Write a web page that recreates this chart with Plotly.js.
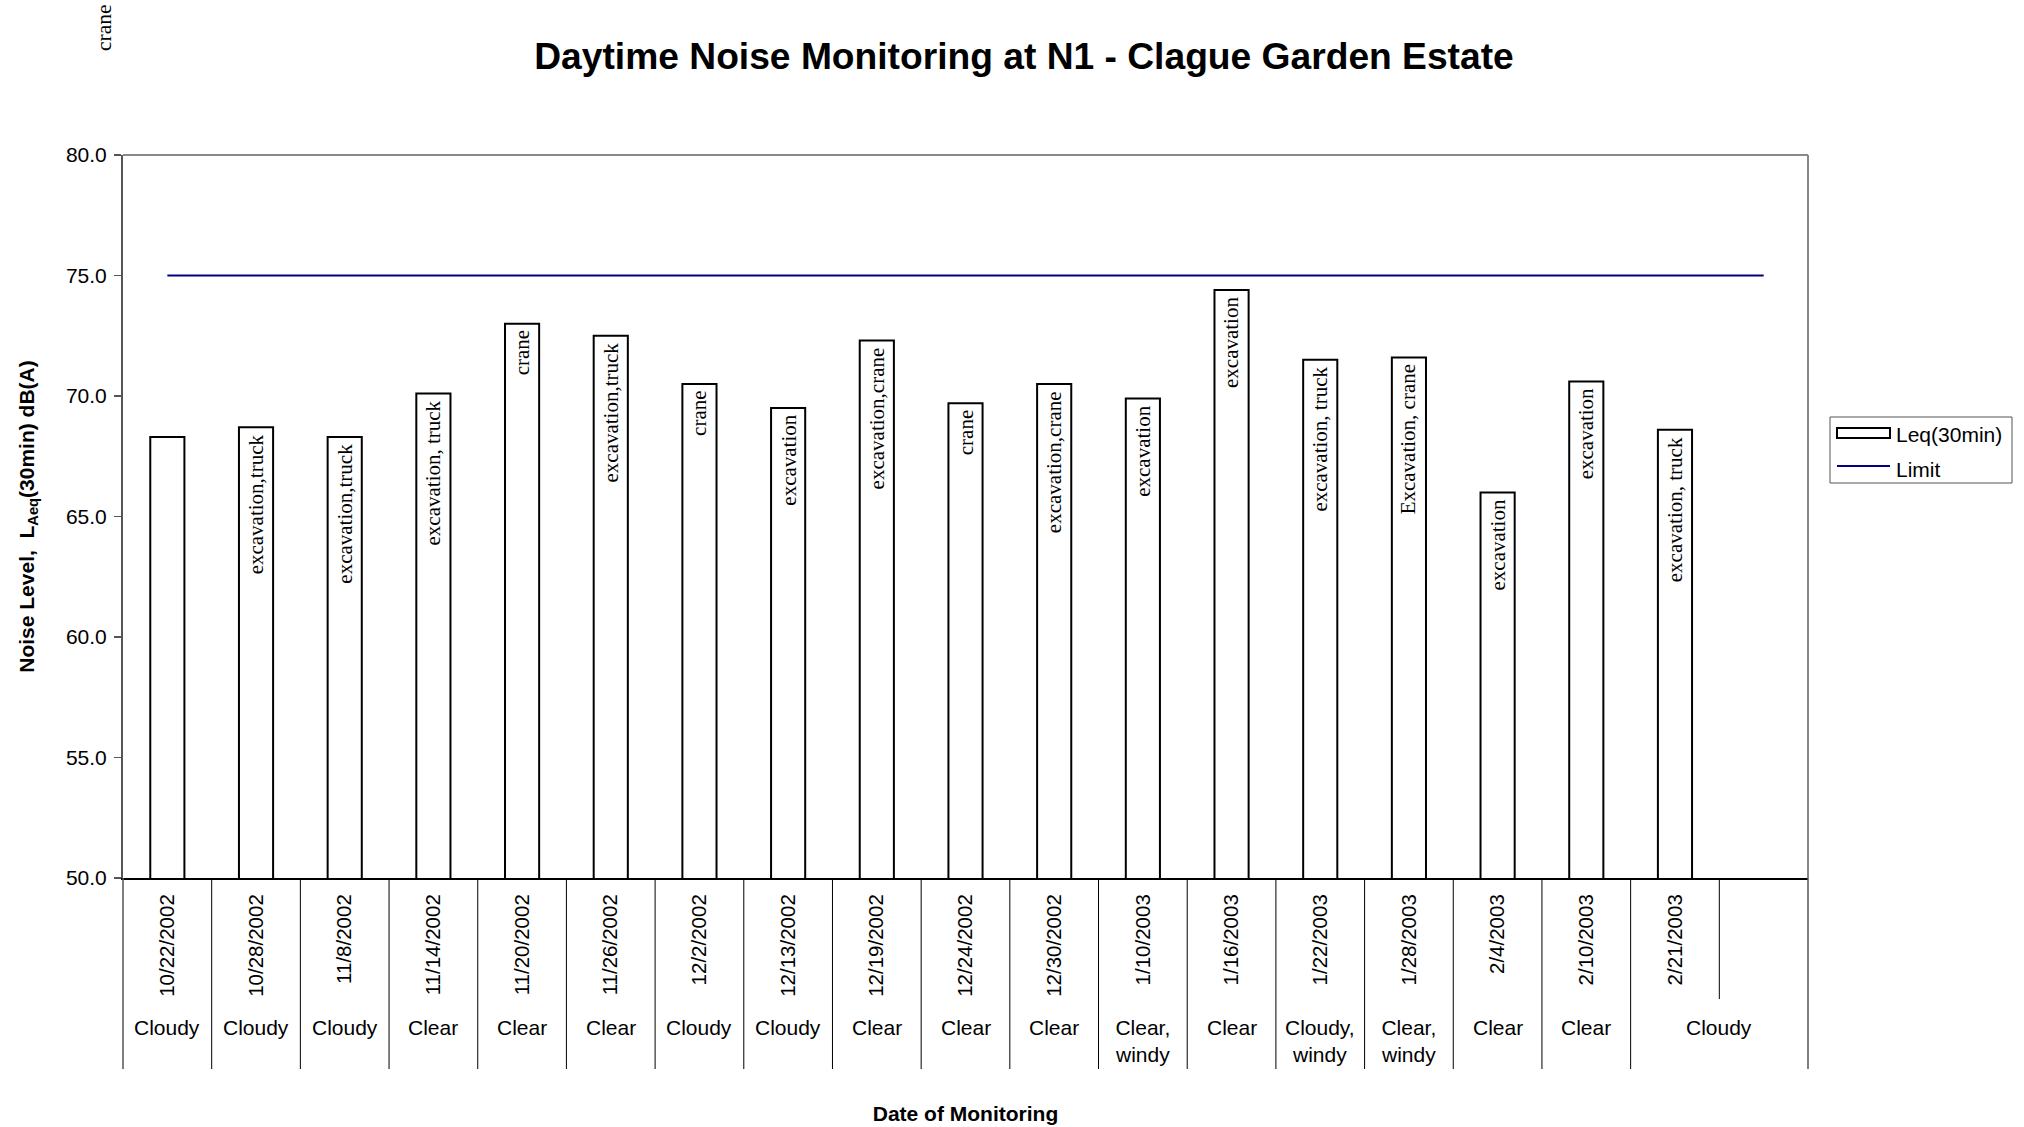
<!DOCTYPE html>
<html>
<head>
<meta charset="utf-8">
<script src="https://cdn.plot.ly/plotly-3.0.1.min.js"></script>
<style>
  html, body { margin: 0; padding: 0; background: #ffffff; }
  #chart { width: 2024px; height: 1127px; }
</style>
</head>
<body>
<div id="chart"></div>
<script>
// ---------------- data ----------------
const dates = ['10/22/2002','10/28/2002','11/8/2002','11/14/2002','11/20/2002','11/26/2002',
  '12/2/2002','12/13/2002','12/19/2002','12/24/2002','12/30/2002','1/10/2003','1/16/2003',
  '1/22/2003','1/28/2003','2/4/2003','2/10/2003','2/21/2003',''];
const weather = ['Cloudy','Cloudy','Cloudy','Clear','Clear','Clear','Cloudy','Cloudy','Clear',
  'Clear','Clear','Clear,<br>windy','Clear','Cloudy,<br>windy','Clear,<br>windy','Clear','Clear','Cloudy'];
const leq = [68.3, 68.7, 68.3, 70.1, 73.0, 72.5, 70.5, 69.5, 72.3, 69.7, 70.5, 69.9, 74.4,
  71.5, 71.6, 66.0, 70.6, 68.6];
const sources = ['', 'excavation,truck', 'excavation,truck', 'excavation, truck', 'crane',
  'excavation,truck', 'crane', 'excavation', 'excavation,crane', 'crane', 'excavation,crane',
  'excavation', 'excavation', 'excavation, truck', 'Excavation, crane', 'excavation',
  'excavation', 'excavation, truck'];
const limit = [75, 75, 75, 75, 75, 75, 75, 75, 75, 75, 75, 75, 75, 75, 75, 75, 75, 75, 75];
const yTicks = [50, 55, 60, 65, 70, 75, 80];
const seriesNames = ['Leq(30min)', 'Limit'];
const strayNote = 'crane';

// ---------------- layout geometry ----------------
const W = 2024, H = 1127;
const M = {l: 123, r: 216, t: 155, b: 249};
const PW = W - M.l - M.r, PH = H - M.t - M.b;
const px = v => (v - M.l) / PW;          // pixel x -> paper
const py = v => (M.t + PH - v) / PH;     // pixel y -> paper
const SANS = 'Arial, "Liberation Sans", sans-serif';
const SERIF = '"Times New Roman", "Liberation Serif", serif';

const idx = dates.map((d, i) => i);
const labelledIdx = idx.filter(i => dates[i] !== '');
const barX = leq.map((v, i) => i);
const xr = [-0.5, dates.length - 0.5];
const xfrac = v => (v - xr[0]) / (xr[1] - xr[0]);

const traces = [
  {
    type: 'bar', name: seriesNames[0], x: barX, y: leq,
    marker: {color: '#ffffff', line: {color: '#000000', width: 2}},
    hoverinfo: 'skip', showlegend: false
  },
  {
    type: 'scatter', mode: 'lines', name: seriesNames[1], x: idx, y: limit,
    line: {color: '#000080', width: 2}, hoverinfo: 'skip', showlegend: false
  }
];

const annotations = [];
// labels inside the bars
sources.forEach((s, i) => {
  if (!s) return;
  annotations.push({
    x: barX[i], y: leq[i], xref: 'x', yref: 'y', text: s, textangle: -90,
    showarrow: false, xanchor: 'center', yanchor: 'top', yshift: -5,
    font: {family: SERIF, size: 21, color: '#000000'}
  });
});
// weather row
weather.forEach((w, i) => {
  const last = i === weather.length - 1;
  annotations.push({
    x: last ? i + 0.5 : i, y: 0, xref: 'x', yref: 'paper', text: w, showarrow: false,
    xanchor: 'center', yanchor: 'top', yshift: -136,
    font: {family: SANS, size: 21, color: '#000000'}
  });
});
// stray note top-left
annotations.push({
  x: px(104), y: py(28), xref: 'paper', yref: 'paper', text: strayNote, textangle: -90,
  showarrow: false, xanchor: 'center', yanchor: 'middle',
  font: {family: SERIF, size: 21.5, color: '#000000'}
});
// legend texts
annotations.push({
  x: px(1894), y: py(435), xref: 'paper', yref: 'paper', text: seriesNames[0],
  showarrow: false, xanchor: 'left', yanchor: 'middle',
  font: {family: SANS, size: 21, color: '#000000'}
});
annotations.push({
  x: px(1894), y: py(469.5), xref: 'paper', yref: 'paper', text: seriesNames[1],
  showarrow: false, xanchor: 'left', yanchor: 'middle',
  font: {family: SANS, size: 21, color: '#000000'}
});

const shapes = [];
// plot frame top / right
shapes.push({type: 'line', xref: 'paper', yref: 'paper', x0: 0, x1: 1, y0: 1, y1: 1,
  line: {color: '#888888', width: 2}, layer: 'below'});
shapes.push({type: 'line', xref: 'paper', yref: 'paper', x0: 1, x1: 1, y0: 0, y1: 1,
  line: {color: '#888888', width: 2}, layer: 'below'});
// category separators below the axis
for (let b = 0; b <= dates.length; b++) {
  const xv = b - 0.5;
  const shortLine = (b === dates.length - 1);
  const edge = (b === 0 || b === dates.length);
  shapes.push({
    type: 'line', xref: 'paper', yref: 'paper', x0: xfrac(xv), x1: xfrac(xv),
    y0: 0, y1: shortLine ? py(999) : py(1069),
    line: {color: edge ? '#555555' : '#000000', width: edge ? 1.5 : 1}
  });
}
// legend box and symbols
shapes.push({type: 'rect', xref: 'paper', yref: 'paper', x0: px(1830), x1: px(2012),
  y0: py(417), y1: py(483), line: {color: '#555555', width: 1}, fillcolor: '#ffffff'});
shapes.push({type: 'rect', xref: 'paper', yref: 'paper', x0: px(1837), x1: px(1890),
  y0: py(428), y1: py(438), line: {color: '#000000', width: 2}, fillcolor: '#ffffff'});
shapes.push({type: 'line', xref: 'paper', yref: 'paper', x0: px(1837), x1: px(1890),
  y0: py(466), y1: py(466), line: {color: '#000080', width: 2}});

const layout = {
  width: W, height: H,
  margin: M,
  paper_bgcolor: '#ffffff', plot_bgcolor: '#ffffff',
  font: {family: SANS, color: '#000000'},
  showlegend: false,
  bargap: 0.615,
  title: {
    text: '<b>Daytime Noise Monitoring at N1 - Clague Garden Estate</b>',
    font: {family: SANS, size: 37.2, color: '#000000'},
    xref: 'container', yref: 'container', x: 1024 / W, y: 1 - 56 / H,
    xanchor: 'center', yanchor: 'middle'
  },
  xaxis: {
    type: 'linear', range: xr, autorange: false,
    tickmode: 'array', tickvals: labelledIdx, ticktext: labelledIdx.map(i => dates[i]), tickangle: -90,
    ticks: '', showgrid: false, zeroline: false,
    showline: true, linecolor: '#000000', linewidth: 2,
    tickfont: {family: SANS, size: 20.5, color: '#000000'},
    ticklabelstandoff: 6,
    automargin: false,
    title: {text: '<b>Date of Monitoring</b>', font: {family: SANS, size: 21, color: '#000000'}, standoff: 110}
  },
  yaxis: {
    range: [50, 80], autorange: false,
    tickmode: 'array', tickvals: yTicks, tickformat: '.1f',
    ticks: 'outside', ticklen: 7, tickwidth: 1.5, tickcolor: '#555555',
    showgrid: false, zeroline: false,
    showline: true, linecolor: '#555555', linewidth: 2,
    tickfont: {family: SANS, size: 21, color: '#000000'},
    ticklabelstandoff: 3,
    automargin: false,
    title: {text: '<b>Noise Level,&nbsp;&nbsp;L<sub>Aeq</sub>(30min) dB(A)</b>',
      font: {family: SANS, size: 21, color: '#000000'}, standoff: 26}
  },
  annotations: annotations,
  shapes: shapes
};

Plotly.newPlot('chart', traces, layout, {displayModeBar: false, staticPlot: true});
</script>
</body>
</html>
